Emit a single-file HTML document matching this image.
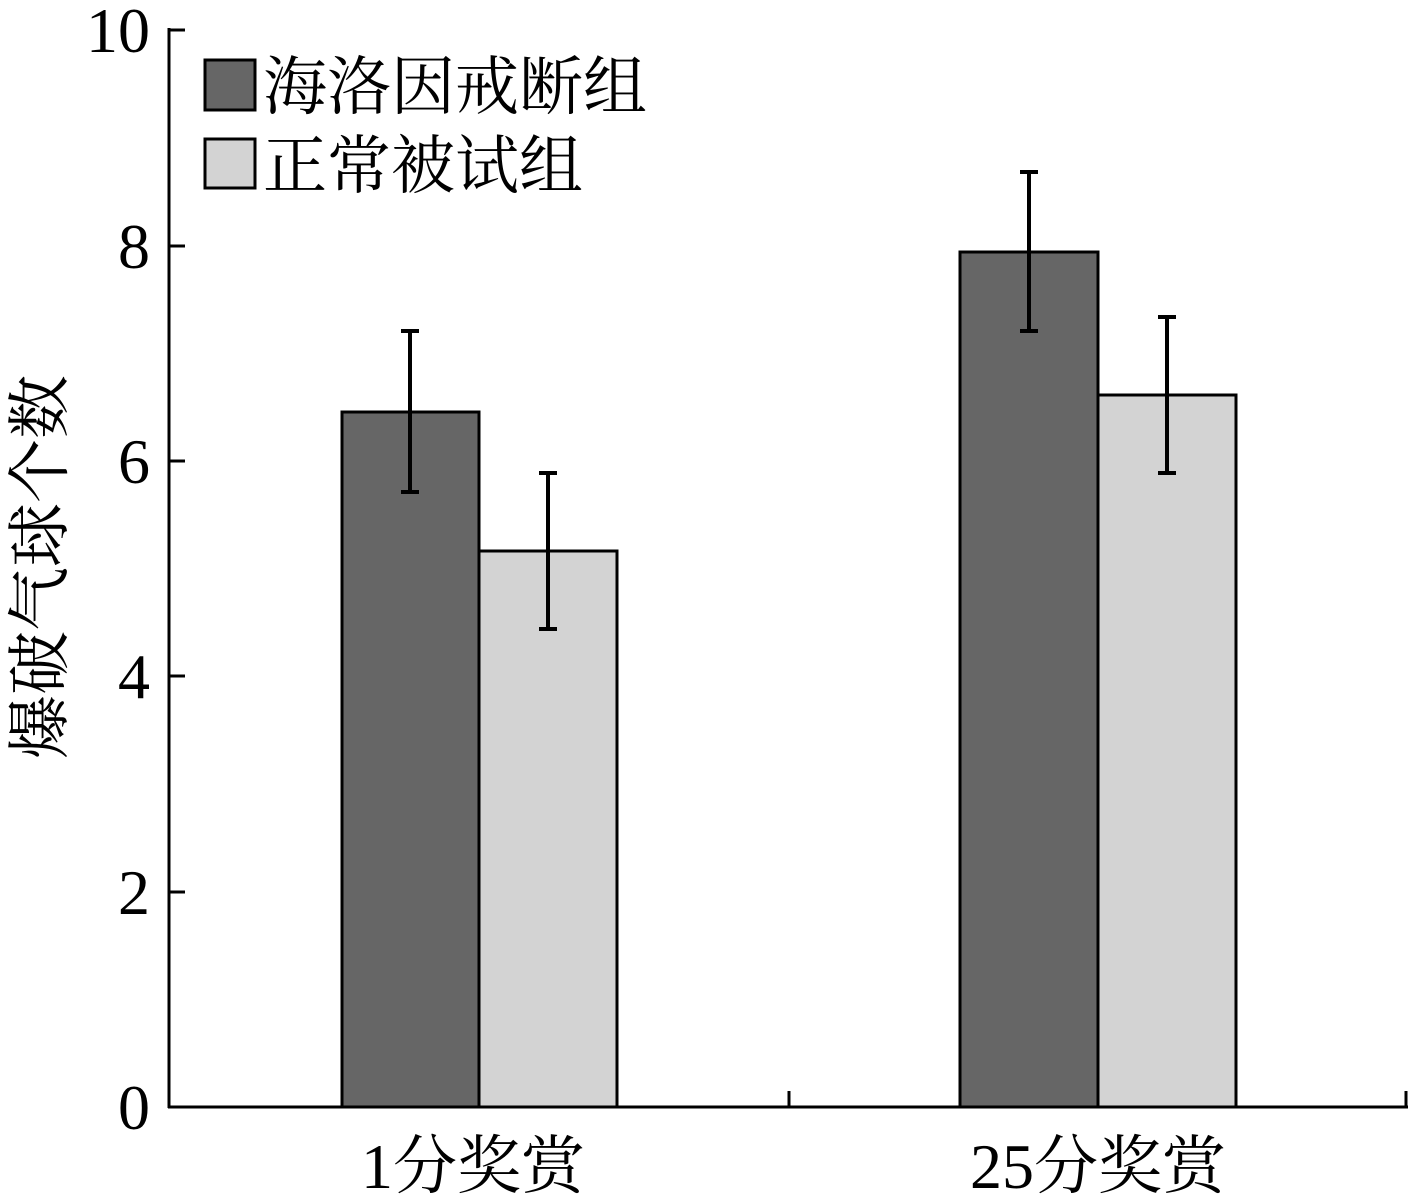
<!DOCTYPE html>
<html><head><meta charset="utf-8"><style>
html,body{margin:0;padding:0;background:#fff;}
svg{display:block;}
</style></head><body>
<svg width="1410" height="1197" viewBox="0 0 1410 1197" xmlns="http://www.w3.org/2000/svg">
<g stroke="#000" stroke-width="3" fill="none">
<line x1="169" y1="28" x2="169" y2="1108"/>
<line x1="168" y1="1107" x2="1408" y2="1107"/>
<line x1="169" y1="30" x2="185" y2="30"/>
<line x1="169" y1="246" x2="185" y2="246"/>
<line x1="169" y1="461" x2="185" y2="461"/>
<line x1="169" y1="676" x2="185" y2="676"/>
<line x1="169" y1="892" x2="185" y2="892"/>
<line x1="789" y1="1107" x2="789" y2="1091"/>
<line x1="1406" y1="1107" x2="1406" y2="1091"/>
</g>
<g stroke="#000" stroke-width="3">
<rect x="342" y="412" width="137" height="695" fill="#666"/>
<rect x="479" y="551" width="138" height="556" fill="#d3d3d3"/>
<rect x="960" y="252" width="138" height="855" fill="#666"/>
<rect x="1098" y="395" width="138" height="712" fill="#d3d3d3"/>
</g>
<g stroke="#000" stroke-width="4" fill="none">
<path d="M410 331V492M401 331H419M401 492H419"/>
<path d="M548 473V629M539 473H557M539 629H557"/>
<path d="M1029 172V331M1020 172H1038M1020 331H1038"/>
<path d="M1167 317V473M1158 317H1176M1158 473H1176"/>
</g>
<g font-family="Liberation Serif, serif" font-size="64" text-anchor="end" fill="#000">
<text x="150" y="52">10</text>
<text x="150" y="268">8</text>
<text x="150" y="483">6</text>
<text x="150" y="698">4</text>
<text x="150" y="914">2</text>
<text x="150" y="1129">0</text>
</g>
<g stroke="#000" stroke-width="3">
<rect x="205" y="60" width="50" height="50" fill="#666"/>
<rect x="205" y="139" width="50" height="49" fill="#d3d3d3"/>
</g>
<g font-family="Liberation Serif, 'Noto Serif CJK SC', serif" font-size="64" fill="#000">
<text x="263" y="109">海洛因戒断组</text>
<text x="263" y="188">正常被试组</text>
<text x="473" y="1188" text-anchor="middle">1分奖赏</text>
<text x="1098" y="1188" text-anchor="middle">25分奖赏</text>
<text transform="translate(62,567) rotate(-90)" text-anchor="middle">爆破气球个数</text>
</g>
</svg>
</body></html>
